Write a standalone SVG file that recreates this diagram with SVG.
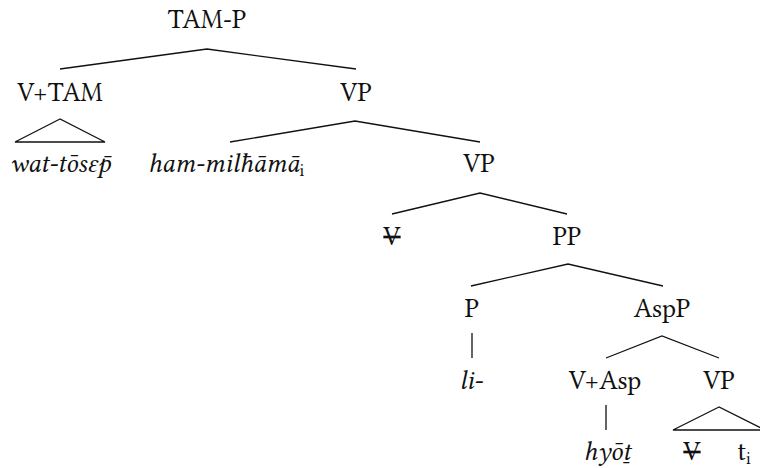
<svg xmlns="http://www.w3.org/2000/svg" width="760" height="468" viewBox="0 0 760 468">
<style>
text{font-family:'Libertinus Serif','Linux Libertine O','Noto Serif','Tinos','FreeSerif','Liberation Serif','DejaVu Serif','Times New Roman',Times,Georgia,serif;font-size:26.5px;fill:#111;text-anchor:middle}
.it{font-style:italic}
.sub{font-size:17px;font-style:normal}
.del{text-decoration:line-through}
line,polyline,polygon{stroke:#111;stroke-width:1.3;fill:none}
</style>
<rect width="760" height="468" fill="#fff"/>
<g id="connectors">
<polyline points="60,69 207,49 356,69"/>
<polygon points="60,119 15,142 105,142"/>
<polyline points="230,142 355,121 480,142"/>
<polyline points="392,214 480,193 567,214"/>
<polyline points="471,286 568,264 663,286"/>
<line x1="472" y1="333" x2="472" y2="358"/>
<polyline points="606,358 662,336 719,358"/>
<line x1="606" y1="405" x2="606" y2="430"/>
<polygon points="719,407 673,430 765,430"/>
</g>
<g id="n-tamp"><text x="207" y="28">TAM-P</text></g>
<g id="n-vtam"><text x="60" y="101">V+TAM</text></g>
<g id="n-wat"><text class="it" x="60" y="172">wat-tōsɛp̄</text></g>
<g id="n-vp1"><text x="356" y="101">VP</text></g>
<g id="n-ham"><text class="it" x="226" y="172">ham-milħāmā<tspan class="sub" dy="4">i</tspan></text></g>
<g id="n-vp2"><text x="479" y="172">VP</text></g>
<g id="n-v1"><text class="del" x="392" y="245">V</text></g>
<g id="n-pp"><text x="567" y="245">PP</text></g>
<g id="n-p"><text x="472" y="317">P</text></g>
<g id="n-li"><text class="it" x="471" y="389">li-</text></g>
<g id="n-aspp"><text x="662" y="317">AspP</text></g>
<g id="n-vasp"><text x="605" y="389">V+Asp</text></g>
<g id="n-hyot"><text class="it" x="607" y="460">hyōṯ</text></g>
<g id="n-vp3"><text x="719" y="389">VP</text></g>
<g id="n-v2"><text class="del" x="692" y="460">V</text></g>
<g id="n-t"><text x="744" y="460">t<tspan class="sub" dy="4">i</tspan></text></g>
</svg>
